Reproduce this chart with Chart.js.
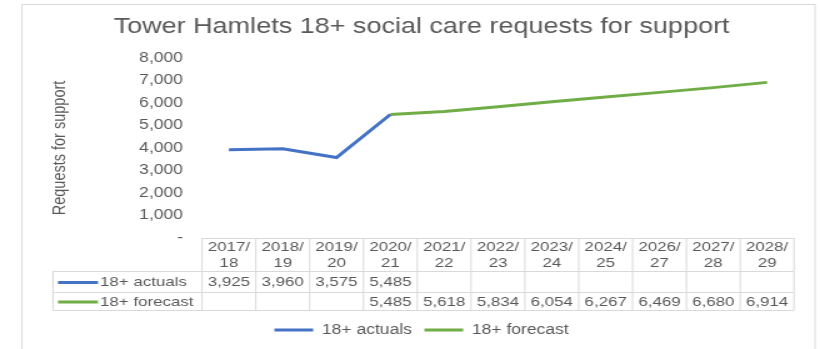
<!DOCTYPE html>
<html>
<head>
<meta charset="utf-8">
<script src="https://cdn.jsdelivr.net/npm/chart.js@4/dist/chart.umd.min.js"></script>
<style>
  html, body { margin: 0; padding: 0; background: #fff; overflow: hidden; }
  /* the source picture is stretched sideways, so the chart is drawn narrow and widened */
  #wrap { position: relative; width: 656px; height: 349px; transform: scaleX(1.25); transform-origin: 0 0; }
</style>
</head>
<body>
<div id="wrap"><canvas id="line"></canvas></div>
<script>
const years = ['2017/18', '2018/19', '2019/20', '2020/21', '2021/22', '2022/23', '2023/24', '2024/25', '2026/27', '2027/28', '2028/29'];
const actuals = [3925, 3960, 3575, 5485, null, null, null, null, null, null, null];
const forecast = [null, null, null, 5485, 5618, 5834, 6054, 6267, 6469, 6680, 6914];
const yTicks = [0, 1000, 2000, 3000, 4000, 5000, 6000, 7000, 8000];

const grey = '#595959';
const blue = '#4472C4';
const green = '#70AD47';
const family = '"Liberation Sans", Arial, sans-serif';
const fmt = v => v.toString().replace(/\B(?=(\d{3})+(?!\d))/g, ',');

// frame plus the data table under the plot
const tablePlugin = {
  id: 'dataTable',
  beforeDraw(chart) {
    const c = chart.ctx;
    c.save();
    c.strokeStyle = '#d9d9d9';
    c.lineWidth = 1;
    c.strokeRect(17.6, 4.5, 634.4, 400);
    c.restore();
  },
  afterDraw(chart) {
    const c = chart.ctx;
    const x = chart.scales.x;
    const area = chart.chartArea;
    const n = years.length;
    const colW = (area.right - area.left) / n;
    const top = Math.round(area.bottom);
    const headBot = top + 33;
    const row1 = headBot + 21;
    const row2 = row1 + 18;
    const leftX = 42.4;
    const rows = [
      { name: '18+ actuals', vals: actuals, color: blue },
      { name: '18+ forecast', vals: forecast, color: green }
    ];
    c.save();
    c.strokeStyle = '#d9d9d9';
    c.lineWidth = 1;
    c.beginPath();
    c.moveTo(area.left, top + 0.5); c.lineTo(area.right, top + 0.5);
    [headBot, row1, row2].forEach(y => {
      c.moveTo(leftX, y + 0.5); c.lineTo(area.right, y + 0.5);
    });
    for (let i = 0; i <= n; i++) {
      const vx = area.left + i * colW;
      c.moveTo(vx, top); c.lineTo(vx, row2);
    }
    c.moveTo(leftX, headBot); c.lineTo(leftX, row2);
    c.stroke();

    c.fillStyle = grey;
    c.font = '13.5px ' + family;
    c.textAlign = 'center';
    c.textBaseline = 'middle';
    years.forEach((yr, i) => {
      const cx = x.getPixelForValue(i);
      const parts = yr.split('/');
      c.fillText(parts[0] + '/', cx, top + 9);
      c.fillText(parts[1], cx, top + 25);
    });
    rows.forEach((r, k) => {
      const cy = k === 0 ? (headBot + row1) / 2 + 1 : (row1 + row2) / 2 + 1;
      r.vals.forEach((v, i) => {
        if (v === null) return;
        c.fillText(fmt(v), x.getPixelForValue(i), cy);
      });
      c.strokeStyle = r.color;
      c.lineWidth = 3;
      c.beginPath();
      c.moveTo(46.4, cy); c.lineTo(78.4, cy);
      c.stroke();
      c.textAlign = 'left';
      c.fillText(r.name, 80, cy);
      c.textAlign = 'center';
    });
    c.restore();
  }
};

const ctx = document.getElementById('line').getContext('2d');

new Chart(ctx, {
  type: 'line',
  data: {
    labels: years,
    datasets: [{
      label: '18+ actuals',
      data: actuals,
      borderColor: blue,
      backgroundColor: blue,
      borderWidth: 3,
      pointRadius: 0,
      tension: 0
    }, {
      label: '18+ forecast',
      data: forecast,
      borderColor: green,
      backgroundColor: green,
      borderWidth: 3,
      pointRadius: 0,
      tension: 0
    }]
  },
  options: {
    responsive: true,
    maintainAspectRatio: false,
    animation: false,
    layout: { padding: { left: 39.3, right: 20.8, top: 0, bottom: 2 } },
    plugins: {
      title: {
        display: true,
        text: 'Tower Hamlets 18+ social care requests for support',
        color: grey,
        font: { family: family, size: 21.6, weight: 'normal' },
        padding: { top: 14.5, bottom: 17.5 }
      },
      legend: {
        position: 'bottom',
        labels: {
          usePointStyle: true,
          pointStyle: 'line',
          pointStyleWidth: 31,
          color: grey,
          font: { family: family, size: 14 },
          padding: 10
        }
      },
      tooltip: { enabled: false }
    },
    scales: {
      x: {
        offset: true,
        grid: { display: false, drawTicks: false },
        border: { display: false },
        ticks: { display: false },
        afterFit: s => { s.height = 75; }
      },
      y: {
        min: 0,
        max: 8000,
        afterBuildTicks: s => { s.ticks = yTicks.map(v => ({ value: v })); },
        grid: { display: false, drawTicks: false },
        border: { display: false },
        ticks: {
          color: grey,
          padding: 15.2,
          font: { family: family, size: 14 },
          callback: v => v === 0 ? '-' : fmt(v)
        },
        title: {
          display: true,
          text: 'Requests for support',
          color: grey,
          font: { family: family, size: 14.5 },
          padding: 0
        },
        afterFit: s => { s.width = 122.3; }
      }
    }
  },
  plugins: [tablePlugin]
});
</script>
</body>
</html>
